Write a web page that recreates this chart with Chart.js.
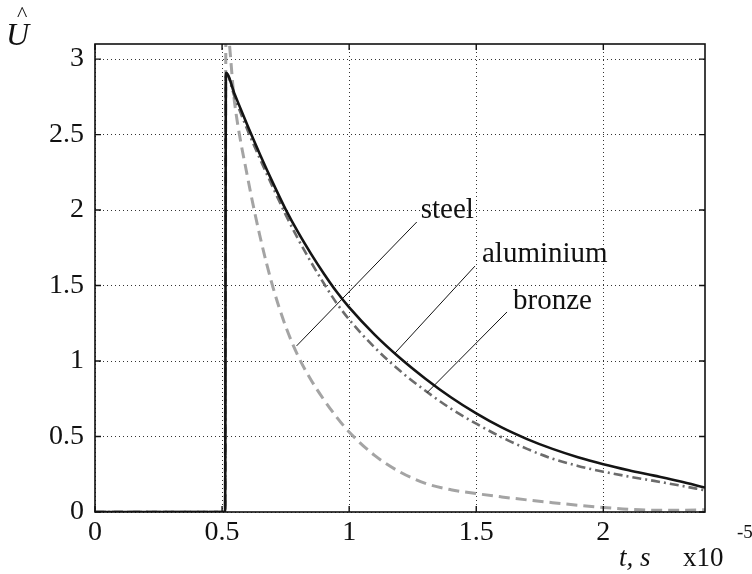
<!DOCTYPE html>
<html>
<head>
<meta charset="utf-8">
<script src="https://cdn.jsdelivr.net/npm/chart.js@4/dist/chart.umd.min.js"></script>
<style>
  html, body { margin: 0; padding: 0; background: #fff; }
  #wrap { width: 752px; height: 574px; }
</style>
</head>
<body>
<div id="wrap"><canvas id="c" width="752" height="574"></canvas></div>
<script>
// time, in units of 1e-5 s
const timeE5 = [0, 0.512, 0.515, 0.55, 0.6, 0.65, 0.7, 0.75, 0.8, 0.85, 0.9, 0.95, 1.0,
                1.1, 1.2, 1.3, 1.4, 1.5, 1.6, 1.7, 1.8, 1.9, 2.0, 2.1, 2.2, 2.3, 2.4];

// normalised amplitude U-hat for each material
const aluminiumU = [0, 0, 2.91, 2.765, 2.56, 2.365, 2.18, 2.005, 1.85, 1.71, 1.58, 1.46, 1.355,
                    1.175, 1.02, 0.883, 0.76, 0.653, 0.56, 0.483, 0.418, 0.363, 0.317, 0.277, 0.241, 0.204, 0.162];
const bronzeU    = [0, 0, 2.91, 2.745, 2.53, 2.335, 2.15, 1.97, 1.805, 1.655, 1.515, 1.385, 1.275,
                    1.09, 0.935, 0.803, 0.685, 0.585, 0.495, 0.418, 0.353, 0.305, 0.267, 0.235, 0.206, 0.176, 0.144];
const steelU     = [0, 0, 3.25, 2.70, 2.22, 1.82, 1.49, 1.23, 1.03, 0.875, 0.745, 0.63, 0.53,
                    0.375, 0.265, 0.19, 0.148, 0.122, 0.10, 0.08, 0.062, 0.045, 0.03, 0.018, 0.012, 0.012, 0.015];

const xTicks = [0, 0.5, 1, 1.5, 2];
const yTicks = [0, 0.5, 1, 1.5, 2, 2.5, 3];
const materials = ['steel', 'aluminium', 'bronze'];

const SERIF = '"Liberation Serif", "Times New Roman", serif';

function pts(values) {
  return timeE5.map((t, i) => ({ x: t, y: values[i] }));
}

// callouts: [label, tip on curve (data), top of leader (data), text offset px]
const callouts = [
  [materials[0], [0.793, 1.10], [1.266, 1.921], [4, -4]],
  [materials[1], [1.179, 1.05], [1.495, 1.629], [7, -4]],
  [materials[2], [1.306, 0.79], [1.621, 1.325], [6, -3]]
];

const framePlugin = {
  id: 'frame',
  afterDatasetsDraw(chart) {
    const { ctx, chartArea: a, scales } = chart;
    ctx.save();
    // leader lines and material names
    ctx.strokeStyle = '#111';
    ctx.lineWidth = 1;
    ctx.fillStyle = '#111';
    ctx.font = '29px ' + SERIF;
    ctx.textBaseline = 'alphabetic';
    ctx.textAlign = 'left';
    callouts.forEach(([name, tip, top, off]) => {
      const x1 = scales.x.getPixelForValue(tip[0]), y1 = scales.y.getPixelForValue(tip[1]);
      const x2 = scales.x.getPixelForValue(top[0]), y2 = scales.y.getPixelForValue(top[1]);
      ctx.beginPath();
      ctx.moveTo(x1, y1);
      ctx.lineTo(x2, y2);
      ctx.stroke();
      ctx.fillText(name, x2 + off[0], y2 + off[1]);
    });

    // box around the plot area
    ctx.strokeStyle = '#111';
    ctx.lineWidth = 1.6;
    ctx.strokeRect(a.left, a.top, a.right - a.left, a.bottom - a.top);

    // inward tick marks on all four sides
    const tl = 6;
    ctx.lineWidth = 1.4;
    ctx.beginPath();
    xTicks.forEach(v => {
      const px = scales.x.getPixelForValue(v);
      ctx.moveTo(px, a.bottom); ctx.lineTo(px, a.bottom - tl);
      ctx.moveTo(px, a.top); ctx.lineTo(px, a.top + tl);
    });
    yTicks.forEach(v => {
      const py = scales.y.getPixelForValue(v);
      ctx.moveTo(a.left, py); ctx.lineTo(a.left + tl, py);
      ctx.moveTo(a.right, py); ctx.lineTo(a.right - tl, py);
    });
    ctx.stroke();

    // axis titles
    ctx.fillStyle = '#111';
    ctx.textAlign = 'left';
    ctx.font = 'italic 32px ' + SERIF;
    ctx.fillText('U', 6, 45);
    ctx.font = '22px ' + SERIF;
    ctx.fillText('^', 17, 21);

    ctx.font = 'italic 27px ' + SERIF;
    ctx.fillText('t, s', 619, 566);
    ctx.font = '27px ' + SERIF;
    ctx.fillText('x10', 683, 566);
    ctx.font = '19px ' + SERIF;
    ctx.fillText('-5', 737, 538);
    ctx.restore();
  }
};

const gridStyle = { color: '#333', lineWidth: 1, drawTicks: false };
const gridDash = { display: false, dash: [1, 3] };

new Chart(document.getElementById('c'), {
  type: 'line',
  data: {
    datasets: [
      {
        label: materials[1],
        data: pts(aluminiumU),
        borderColor: '#141414',
        borderWidth: 2.6,
        pointRadius: 0,
        cubicInterpolationMode: 'monotone'
      },
      {
        label: materials[2],
        data: pts(bronzeU),
        borderColor: '#6c6c6c',
        borderWidth: 2.6,
        borderDash: [9, 4, 2, 4],
        pointRadius: 0,
        cubicInterpolationMode: 'monotone'
      },
      {
        label: materials[0],
        data: pts(steelU),
        borderColor: '#a4a4a4',
        borderWidth: 3,
        borderDash: [11, 6],
        pointRadius: 0,
        cubicInterpolationMode: 'monotone'
      }
    ]
  },
  options: {
    responsive: false,
    animation: false,
    devicePixelRatio: 1,
    layout: { padding: { top: 44, right: 47, left: 0, bottom: 0 } },
    plugins: { legend: { display: false }, tooltip: { enabled: false } },
    scales: {
      x: {
        type: 'linear',
        min: 0,
        max: 2.4,
        grid: gridStyle,
        border: gridDash,
        afterBuildTicks(scale) { scale.ticks = xTicks.map(v => ({ value: v })); },
        afterFit(scale) { scale.height = 62; },
        ticks: {
          color: '#111',
          padding: 4,
          maxRotation: 0,
          font: { family: SERIF, size: 28 },
          callback: v => String(v)
        }
      },
      y: {
        type: 'linear',
        min: 0,
        max: 3.1,
        grid: gridStyle,
        border: gridDash,
        afterBuildTicks(scale) { scale.ticks = yTicks.map(v => ({ value: v })); },
        afterFit(scale) { scale.width = 95; },
        ticks: {
          color: '#111',
          padding: 11,
          font: { family: SERIF, size: 28 },
          callback: v => String(v)
        }
      }
    }
  },
  plugins: [framePlugin]
});
</script>
</body>
</html>
